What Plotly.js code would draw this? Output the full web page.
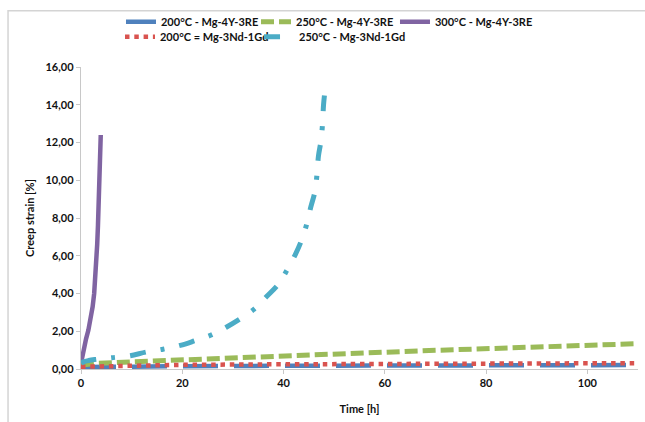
<!DOCTYPE html>
<html>
<head>
<meta charset="utf-8">
<script src="https://cdn.plot.ly/plotly-3.0.1.min.js"></script>
<style>html,body{margin:0;padding:0;background:#fff;}#chart{width:645px;height:422px;}</style>
</head>
<body>
<div id="chart"></div>
<script>
// Series names
const seriesNames = ["200°C - Mg-4Y-3RE", "250°C - Mg-4Y-3RE", "300°C - Mg-4Y-3RE", "200°C = Mg-3Nd-1Gd", "250°C - Mg-3Nd-1Gd"];

// 200°C - Mg-4Y-3RE
const blueX = [0, 5, 10, 20, 40, 60, 80, 100, 110];
const blueY = [0.10, 0.12, 0.13, 0.15, 0.17, 0.19, 0.20, 0.21, 0.21];

// 250°C - Mg-4Y-3RE
const greenX = [0, 3, 10, 20, 30, 40, 50, 60, 70, 80, 90, 100, 110];
const greenY = [0.20, 0.30, 0.38, 0.47, 0.58, 0.68, 0.79, 0.89, 0.99, 1.08, 1.17, 1.26, 1.34];

// 300°C - Mg-4Y-3RE
const purpleX = [0, 0.3, 0.6, 1.0, 1.45, 1.9, 2.3, 2.6, 2.85, 3.05, 3.2, 3.35, 3.5, 3.65, 3.8, 3.9];
const purpleY = [0.30, 0.75, 1.20, 1.60, 2.05, 2.60, 3.30, 4.00, 4.80, 5.70, 6.60, 7.60, 8.70, 9.90, 11.20, 12.40];

// 200°C = Mg-3Nd-1Gd
const redX = [0, 5, 10, 20, 40, 60, 80, 100, 110];
const redY = [0.12, 0.15, 0.18, 0.22, 0.25, 0.27, 0.29, 0.30, 0.31];

// 250°C - Mg-3Nd-1Gd
const cyanX = [0, 0.5, 1.5, 2.7, 4.5, 6.1, 9.6, 12.9, 16.2, 19.6, 22.5, 25.7, 28.6, 31.4, 34.3, 36.7, 39.0, 40.6, 42.3, 43.6, 44.6, 45.4, 46.2, 46.6, 46.9, 47.4, 47.7, 47.9, 48.2];
const cyanY = [0.30, 0.38, 0.45, 0.50, 0.55, 0.60, 0.70, 0.90, 1.05, 1.25, 1.50, 1.80, 2.20, 2.65, 3.20, 3.85, 4.50, 5.20, 6.05, 6.85, 7.70, 8.60, 9.40, 10.30, 11.30, 12.10, 13.00, 14.00, 14.80];

// Axis ticks
const yTicks = [0, 2, 4, 6, 8, 10, 12, 14, 16];
const xTicks = [0, 20, 40, 60, 80, 100];

const FONT = "Lato, 'Open Sans', sans-serif";
const txt = {family: FONT, size: 11, color: '#111111', weight: 'bold'};
const legTxt = {family: FONT, size: 11, color: '#111111', weight: 'bold'};

const traces = [
  {x: blueX, y: blueY, name: seriesNames[0], legend: 'legend', mode: 'lines', line: {color: '#4F81BD', width: 4.5, dash: '35px,16px'}},
  {x: greenX, y: greenY, name: seriesNames[1], legend: 'legend2', mode: 'lines', line: {color: '#9BBB59', width: 5, dash: '13px,5px'}},
  {x: purpleX, y: purpleY, name: seriesNames[2], legend: 'legend3', mode: 'lines', line: {color: '#8064A2', width: 4.5}},
  {x: redX, y: redY, name: seriesNames[3], legend: 'legend4', mode: 'lines', line: {color: '#D9534F', width: 4.5, dash: '4.5px,4.8px'}},
  {x: cyanX, y: cyanY, name: seriesNames[4], legend: 'legend5', mode: 'lines', line: {color: '#4BACC6', width: 5, dash: '16px,15px,4px,15px', shape: 'spline'}}
];

function leg(x, y) {
  return {orientation: 'h', xanchor: 'left', yanchor: 'middle', font: legTxt,
          bgcolor: 'rgba(0,0,0,0)', borderwidth: 0, x: x, y: y};
}

const layout = {
  width: 645, height: 422,
  margin: {l: 81, r: 7, t: 63, b: 53},
  paper_bgcolor: '#ffffff', plot_bgcolor: '#ffffff',
  separators: ',.',
  showlegend: true,
  legend: leg(0.0718, 1.150),
  legend2: leg(0.3142, 1.150),
  legend3: leg(0.5637, 1.150),
  legend4: leg(0.0700, 1.100),
  legend5: leg(0.3196, 1.100),
  xaxis: {range: [0, 110], tickvals: xTicks, showgrid: false, zeroline: false,
          showline: true, linecolor: '#C8C8C8', linewidth: 1.2, ticks: 'outside', ticklen: 4,
          tickcolor: '#C8C8C8', tickfont: txt,
          title: {text: 'Time [h]', font: txt, standoff: 16}},
  yaxis: {range: [0, 16], tickvals: yTicks, tickformat: '.2f', showgrid: false, zeroline: false,
          showline: true, linecolor: '#C8C8C8', linewidth: 1.2, ticks: 'outside', ticklen: 4,
          tickcolor: '#C8C8C8', tickfont: txt,
          title: {text: 'Creep strain [%]', font: txt, standoff: 8}},
  shapes: [
    {type: 'rect', xref: 'paper', yref: 'paper', x0: -0.131, x1: 1.3, y0: -0.5, y1: 1.186,
     line: {color: '#D4D4D4', width: 1.5}, fillcolor: 'rgba(0,0,0,0)', layer: 'below'}
  ]
};

Plotly.newPlot('chart', traces, layout, {displayModeBar: false, staticPlot: true});
</script>
</body>
</html>
